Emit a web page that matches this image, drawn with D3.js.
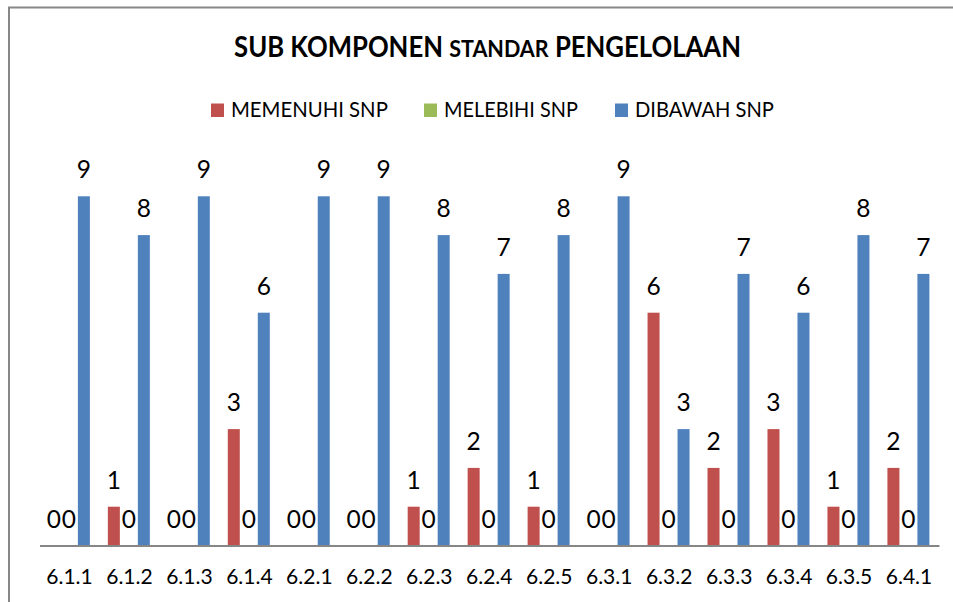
<!DOCTYPE html>
<html>
<head>
<meta charset="utf-8">
<script src="https://cdn.jsdelivr.net/npm/d3@7"></script>
<style>
  html, body { margin: 0; padding: 0; background: #fff; }
  svg { display: block; }
  text { font-family: Lato, "Open Sans", sans-serif; fill: #000; }
</style>
</head>
<body>
<svg id="chart" width="953" height="602"></svg>
<script>
const categories = ["6.1.1","6.1.2","6.1.3","6.1.4","6.2.1","6.2.2","6.2.3","6.2.4","6.2.5","6.3.1","6.3.2","6.3.3","6.3.4","6.3.5","6.4.1"];
const seriesNames = ["MEMENUHI SNP","MELEBIHI SNP","DIBAWAH SNP"];
const memenuhi = [0,1,0,3,0,0,1,2,1,0,6,2,3,1,2];
const melebihi = [0,0,0,0,0,0,0,0,0,0,0,0,0,0,0];
const dibawah  = [9,8,9,6,9,9,8,7,8,9,3,7,6,8,7];
const colors = ["#C0504D","#9BBB59","#4F81BD"];
const yMax = 10;

const seriesValues = [memenuhi, melebihi, dibawah];
const svg = d3.select("#chart");

// outer chart border (partly cropped)
svg.append("rect")
  .attr("x", 9).attr("y", 7.5).attr("width", 1000).attr("height", 1000)
  .attr("fill", "none").attr("stroke", "#878787").attr("stroke-width", 2);

// helper to horizontally fit a text to a target width
function fitWidth(sel, target, cx) {
  const node = sel.node();
  const w = node.getBBox().width;
  if (w > 0) {
    const s = target / w;
    sel.attr("transform", `translate(${cx},0) scale(${s},1) translate(${-cx},0)`);
  }
}

// Title
const titleCx = 487.5;
const title = svg.append("text")
  .attr("x", titleCx).attr("y", 57)
  .attr("text-anchor", "middle")
  .attr("font-weight", "bold");
title.append("tspan").attr("font-size", 28).text("SUB KOMPONEN ");
title.append("tspan").attr("font-size", 23.5).text("STANDAR");
title.append("tspan").attr("font-size", 28).text(" PENGELOLAAN");
fitWidth(title, 507, titleCx);

// Legend
const legendX = [211, 424, 615];
const legendW = [157, 134, 139];
seriesNames.forEach((name, i) => {
  svg.append("rect")
    .attr("x", legendX[i]).attr("y", 103.5)
    .attr("width", 13).attr("height", 13.5)
    .attr("fill", colors[i]);
  const t = svg.append("text")
    .attr("x", legendX[i] + 20).attr("y", 117)
    .attr("font-size", 21)
    .text(name);
  fitWidth(t, legendW[i], legendX[i] + 20);
});

// Scales
const x0 = d3.scaleBand().domain(categories).range([39.5, 939]).paddingInner(0).paddingOuter(0);
const clusterW = 42;
const off = (x0.bandwidth() - clusterW) / 2 - 0.6;
const x1 = d3.scaleBand().domain(seriesNames).range([off, off + clusterW]).paddingInner(0.2).paddingOuter(0);
const y = d3.scaleLinear().domain([0, yMax]).range([545.5, 157.5]);

// Data rows
const rows = [];
categories.forEach((c, ci) => {
  seriesNames.forEach((s, si) => {
    rows.push({ cat: c, series: s, si: si, value: seriesValues[si][ci] });
  });
});

// Bars
svg.append("g").selectAll("rect")
  .data(rows)
  .join("rect")
  .attr("x", d => x0(d.cat) + x1(d.series))
  .attr("y", d => y(d.value))
  .attr("width", x1.bandwidth())
  .attr("height", d => y(0) - y(d.value))
  .attr("fill", d => colors[d.si]);

// Value labels
svg.append("g").selectAll("text")
  .data(rows)
  .join("text")
  .attr("x", d => x0(d.cat) + x1(d.series) + x1.bandwidth() / 2)
  .attr("y", d => y(d.value) - 18)
  .attr("text-anchor", "middle")
  .attr("font-size", 24.5)
  .text(d => d.value);

// X axis
const axis = d3.axisBottom(x0).tickSize(0).tickSizeOuter(0);
const gx = svg.append("g")
  .attr("transform", `translate(0,${y(0)})`)
  .call(axis);
gx.select(".domain").attr("stroke", "#868686").attr("stroke-width", 2);
gx.selectAll(".tick text")
  .attr("y", 38.5).attr("dy", null)
  .attr("font-size", 21)
  .attr("font-family", "Lato, 'Open Sans', sans-serif")
  .attr("fill", "#000")
  .each(function() { fitWidth(d3.select(this), 46.5, 0); });
</script>
</body>
</html>
